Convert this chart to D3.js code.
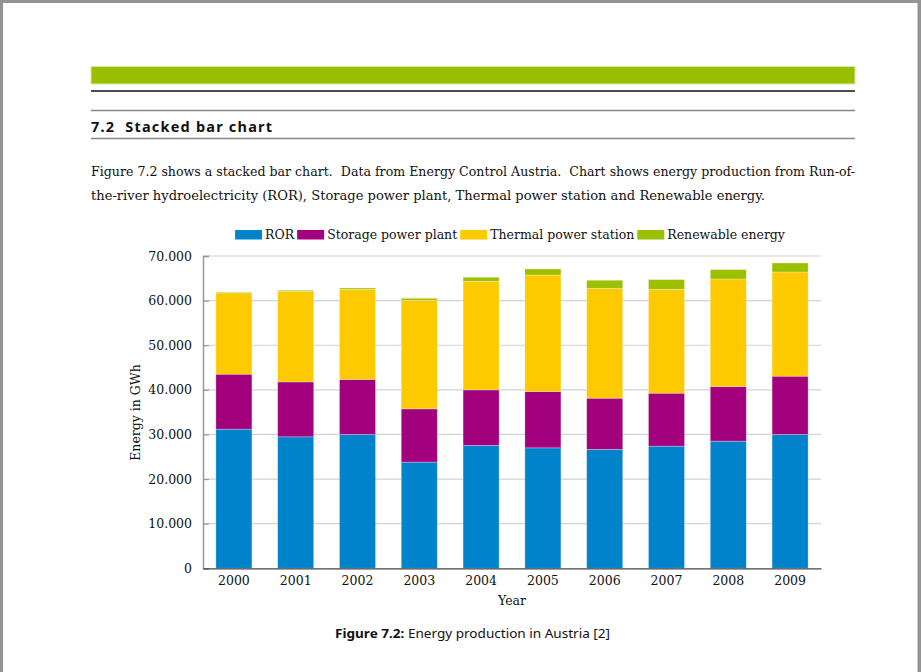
<!DOCTYPE html>
<html>
<head>
<meta charset="utf-8">
<script src="https://cdn.jsdelivr.net/npm/d3@7"></script>
<style>
  html, body { margin: 0; padding: 0; background: #939393; }
  svg { display: block; }
  text { white-space: pre; }
</style>
</head>
<body>
<svg id="page" width="921" height="672"></svg>
<script>
// ---------- data ----------
const years = ["2000","2001","2002","2003","2004","2005","2006","2007","2008","2009"];
const seriesNames = ["ROR", "Storage power plant", "Thermal power station", "Renewable energy"];
const ror       = [31190, 29470, 30000, 23800, 27540, 27000, 26650, 27380, 28500, 30000];
const storage   = [12320, 12310, 12320, 11940, 12450, 12630, 11480, 11870, 12250, 13060];
const thermal   = [18210, 20310, 20220, 24340, 24340, 26110, 24630, 23290, 24100, 23350];
const renewable = [  150,   230,   290,   440,   900,  1350,  1800,  2170,  2100,  2020];
const yTickValues = [0, 10000, 20000, 30000, 40000, 50000, 60000, 70000];
const colors = ["#0083ca", "#a3007e", "#fdca00", "#9bc000"];

const svg = d3.select("#page");
const SERIF = "'DejaVu Serif', serif";
const SANS = "'Noto Sans', 'Open Sans', sans-serif";

// ---------- page frame ----------
svg.append("rect").attr("x", 3).attr("y", 3).attr("width", 914.5).attr("height", 672).attr("fill", "#fff");

// header decorations
svg.append("rect").attr("x", 91).attr("y", 66.5).attr("width", 764).attr("height", 17.5)
  .attr("fill", "#99c000").attr("stroke", "#d8e9a6").attr("stroke-width", 1);
svg.append("line").attr("x1", 91).attr("x2", 855).attr("y1", 91).attr("y2", 91)
  .attr("stroke", "#111").attr("stroke-width", 1.6);
svg.append("line").attr("x1", 91).attr("x2", 855).attr("y1", 110.5).attr("y2", 110.5)
  .attr("stroke", "#888").attr("stroke-width", 1.4);
svg.append("line").attr("x1", 91).attr("x2", 855).attr("y1", 138.5).attr("y2", 138.5)
  .attr("stroke", "#888").attr("stroke-width", 1.4);

svg.append("text").attr("x", 91).attr("y", 132).attr("font-family", SANS)
  .attr("font-weight", "bold").attr("font-size", 14.5).attr("fill", "#111")
  .attr("textLength", 181).attr("lengthAdjust", "spacing").text("7.2  Stacked bar chart");

svg.append("text").attr("x", 91).attr("y", 175.5).attr("font-family", SERIF)
  .attr("font-size", 12.6).attr("fill", "#111")
  .attr("textLength", 764).attr("lengthAdjust", "spacingAndGlyphs")
  .text("Figure 7.2 shows a stacked bar chart.  Data from Energy Control Austria.  Chart shows energy production from Run-of-");
svg.append("text").attr("x", 91).attr("y", 199.5).attr("font-family", SERIF)
  .attr("font-size", 12.6).attr("fill", "#111")
  .attr("textLength", 674).attr("lengthAdjust", "spacingAndGlyphs")
  .text("the-river hydroelectricity (ROR), Storage power plant, Thermal power station and Renewable energy.");

// ---------- chart ----------
const x0 = 203, x1 = 821, yBase = 568.3, yTop = 256;
const x = d3.scaleBand().domain(years).range([x0, x1]).paddingInner(0.417).paddingOuter(0.2085);
const y = d3.scaleLinear().domain([0, 70000]).range([yBase, yTop]);
const fmt = d3.formatLocale({decimal: ",", thousands: ".", grouping: [3], currency: ["", ""]}).format(",");

// gridlines
svg.append("g").selectAll("line").data(yTickValues.filter(d => d > 0)).join("line")
  .attr("x1", x0).attr("x2", x1).attr("y1", d => y(d)).attr("y2", d => y(d))
  .attr("stroke", "#d2d2d2").attr("stroke-width", 1.2);

// stacked bars
const rows = years.map((yr, i) => ({year: yr, s0: ror[i], s1: storage[i], s2: thermal[i], s3: renewable[i]}));
const stack = d3.stack().keys(["s0", "s1", "s2", "s3"])(rows);
svg.append("g").selectAll("g").data(stack).join("g")
  .attr("fill", (d, i) => colors[i])
  .selectAll("rect").data(d => d).join("rect")
  .attr("x", d => x(d.data.year)).attr("width", x.bandwidth())
  .attr("y", d => y(d[1])).attr("height", d => y(d[0]) - y(d[1]))
  .attr("stroke", "rgba(255,255,255,0.35)").attr("stroke-width", 0.8);

// y axis
const yAxis = d3.axisLeft(y).tickValues(yTickValues).tickFormat(fmt).tickSize(-6).tickPadding(11);
const gy = svg.append("g").attr("transform", `translate(${x0},0)`).call(yAxis);
gy.select(".domain").attr("stroke", "#999").attr("stroke-width", 1.5);
gy.selectAll(".tick line").attr("stroke", "#999").attr("stroke-width", 1.2);
gy.selectAll(".tick text").attr("font-family", SERIF).attr("font-size", 12.5).attr("fill", "#111");

// x axis
const xAxis = d3.axisBottom(x).tickSize(0).tickPadding(8);
const gx = svg.append("g").attr("transform", `translate(0,${yBase})`).call(xAxis);
gx.select(".domain").attr("stroke", "#444").attr("stroke-width", 1.2);
gx.selectAll(".tick text").attr("font-family", SERIF).attr("font-size", 12.5).attr("fill", "#111");

// axis titles
svg.append("text").attr("x", 512).attr("y", 605).attr("text-anchor", "middle")
  .attr("font-family", SERIF).attr("font-size", 12.5).attr("fill", "#111").text("Year");
svg.append("text").attr("transform", "translate(139.5,412.5) rotate(-90)").attr("text-anchor", "middle")
  .attr("font-family", SERIF).attr("font-size", 12.5).attr("fill", "#111").text("Energy in GWh");

// legend
const lg = svg.append("g");
let lx = 0;
seriesNames.forEach((name, i) => {
  lg.append("rect").attr("x", lx).attr("y", 230).attr("width", 27).attr("height", 9.5).attr("fill", colors[i]);
  lx += 30;
  const t = lg.append("text").attr("x", lx).attr("y", 239).attr("font-family", SERIF)
    .attr("font-size", 12.5).attr("fill", "#111").text(name);
  lx += t.node().getComputedTextLength() + 3;
});
lg.attr("transform", `translate(${510 - (lx - 3) / 2},0)`);

// caption
const cap = svg.append("text").attr("x", 335).attr("y", 638).attr("font-family", SANS)
  .attr("font-size", 13).attr("fill", "#111");
cap.append("tspan").attr("font-weight", "bold").text("Figure 7.2:");
cap.append("tspan").text(" Energy production in Austria [2]");
cap.attr("textLength", 275).attr("lengthAdjust", "spacingAndGlyphs");
</script>
</body>
</html>
